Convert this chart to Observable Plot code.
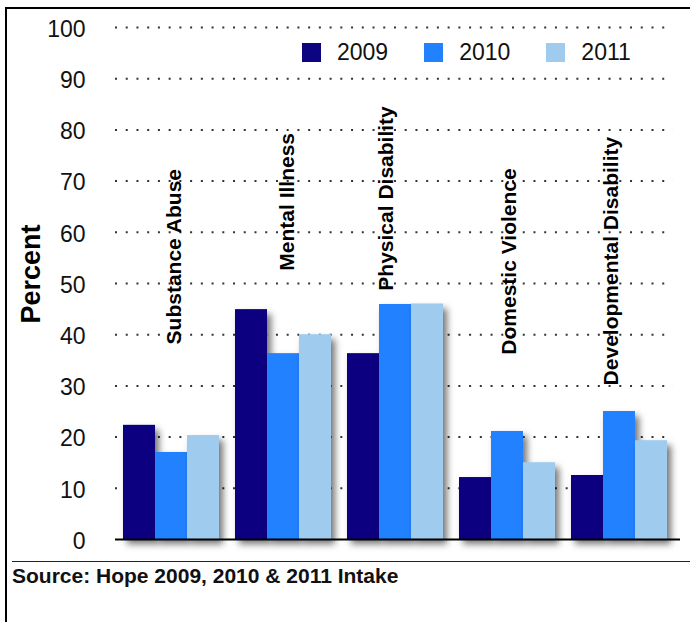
<!DOCTYPE html>
<html>
<head>
<meta charset="utf-8">
<script src="https://cdn.jsdelivr.net/npm/d3@7"></script>
<script src="https://cdn.jsdelivr.net/npm/@observablehq/plot@0.6"></script>
<style>
  html, body { margin: 0; padding: 0; background: #fff; }
  body { width: 690px; height: 622px; position: relative; overflow: hidden;
         font-family: "Liberation Sans", Arial, Helvetica, sans-serif; }
  #frame { position: absolute; left: 5px; top: 7px; right: -10px; bottom: -10px;
           border-left: 2px solid #000; border-top: 2px solid #000; pointer-events: none; z-index: 3; }
  #chart { position: absolute; left: 0; top: 0; }
  #legend { position: absolute; left: 302px; top: 43px; display: flex; z-index: 2; }
  .item { display: flex; align-items: center; margin-right: 36px; font-size: 23px; color: #111; height: 19px; }
  .sw { width: 19px; height: 19px; margin-right: 16px; }
  #sep { position: absolute; left: 12px; right: 0; top: 561px; border-top: 1.2px solid #222; }
  #source { position: absolute; left: 12px; top: 565px; font-size: 21px; font-weight: bold; line-height: 21px; color: #111; }
</style>
</head>
<body>
<div id="chart"></div>
<div id="legend"></div>
<div id="sep"></div>
<div id="source">Source: Hope 2009, 2010 &amp; 2011 Intake</div>
<div id="frame"></div>
<script>
const categories = ["Substance Abuse", "Mental Illness", "Physical Disability", "Domestic Violence", "Developmental Disability"];
const years = ["2009", "2010", "2011"];
const v2009 = [22.3, 44.9, 36.3, 12.1, 12.5];
const v2010 = [17.0, 36.3, 45.9, 21.1, 25.0];
const v2011 = [20.3, 40.0, 46.0, 15.0, 19.3];
const yTicks = [0, 10, 20, 30, 40, 50, 60, 70, 80, 90, 100];
const colors = ["#0c0480", "#2181ff", "#9ecbee"];
// where each rotated category label begins (in percent units) and its small horizontal nudge
const labelStart = [38.1, 52.5, 48.6, 36.1, 30.1];
const labelNudge = [3, 4, -9, 2, -8];

const series = [v2009, v2010, v2011];
const rows = years.flatMap((yr, j) => categories.map((c, i) => ({category: c, year: yr, value: series[j][i]})));

const barW = 32;
const font = '"Liberation Sans", Arial, Helvetica, sans-serif';

const plot = Plot.plot({
  width: 690,
  height: 560,
  marginLeft: 115,
  marginRight: 15,
  marginTop: 27,
  marginBottom: 21,
  style: {background: "transparent", fontFamily: font, overflow: "visible", color: "#111"},
  x: {domain: categories, paddingInner: 1/7, paddingOuter: 1/14, axis: null},
  y: {domain: [0, 100], axis: null},
  color: {domain: years, range: colors},
  marks: [
    Plot.ruleY(yTicks.filter(t => t > 0), {stroke: "#333", strokeWidth: 2, strokeDasharray: "2,8.73", insetRight: 2}),
    ...years.map((yr, j) => Plot.barY(rows.filter(r => r.year === yr), {
      x: "category", y: "value", fill: "year",
      insetLeft: j * barW, insetRight: (years.length - 1 - j) * barW
    })),
    Plot.ruleY([0], {stroke: "#000", strokeWidth: 2, insetRight: -5}),
    Plot.axisY({ticks: yTicks, tickSize: 0, tickPadding: 30, fontSize: 23, label: null, dy: 2, fill: "#111"}),
    Plot.text(["Percent"], {frameAnchor: "left", text: d => d, textAnchor: "middle", dx: -84, dy: -9.5, rotate: -90, fontSize: 27, fontWeight: "bold", fill: "#000"}),
    ...categories.map((c, i) => Plot.text([c], {
      x: d => d, y: () => labelStart[i], text: d => d, rotate: -90, textAnchor: "start",
      dx: labelNudge[i], fontSize: 21, fontWeight: "bold", fill: "#000"
    }))
  ]
});

// drop shadow on bars
const svg = d3.select(plot);
const defs = svg.insert("defs", ":first-child");
const f = defs.append("filter").attr("id", "barShadow").attr("x", "-20%").attr("y", "-20%").attr("width", "150%").attr("height", "150%");
f.append("feDropShadow").attr("dx", 4).attr("dy", 5).attr("stdDeviation", 3.5).attr("flood-color", "#000").attr("flood-opacity", 0.55);
svg.selectAll('g[aria-label="bar"]').attr("filter", "url(#barShadow)");

document.getElementById("chart").appendChild(plot);

// legend
const lg = d3.select("#legend");
years.forEach((yr, j) => {
  const it = lg.append("div").attr("class", "item");
  it.append("div").attr("class", "sw").style("background", colors[j]);
  it.append("span").text(yr);
});
</script>
</body>
</html>
